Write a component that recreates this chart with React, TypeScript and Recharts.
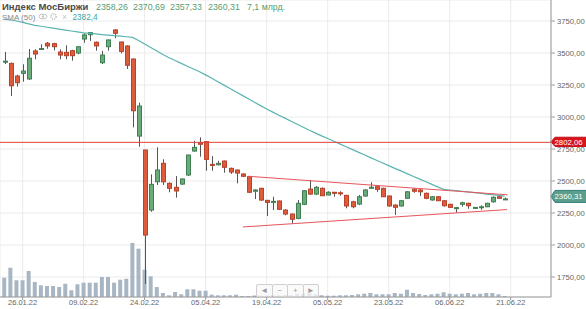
import React from 'react';
import { ComposedChart, Bar, Line, XAxis, YAxis, CartesianGrid, ReferenceLine } from 'recharts';

// trading days, one candle each
const DATES = [
  '21.01.22', '24.01.22', '25.01.22', '26.01.22', '27.01.22', '28.01.22', '31.01.22', '01.02.22', '02.02.22', '03.02.22',
  '04.02.22', '07.02.22', '08.02.22', '09.02.22', '10.02.22', '11.02.22', '14.02.22', '15.02.22', '16.02.22', '17.02.22',
  '18.02.22', '21.02.22', '22.02.22', '24.02.22', '25.02.22', '24.03.22', '25.03.22', '28.03.22', '29.03.22', '30.03.22',
  '31.03.22', '01.04.22', '04.04.22', '05.04.22', '06.04.22', '07.04.22', '08.04.22', '11.04.22', '12.04.22', '13.04.22',
  '14.04.22', '15.04.22', '18.04.22', '19.04.22', '20.04.22', '21.04.22', '22.04.22', '25.04.22', '26.04.22', '27.04.22',
  '28.04.22', '29.04.22', '04.05.22', '05.05.22', '06.05.22', '11.05.22', '12.05.22', '13.05.22', '16.05.22', '17.05.22',
  '18.05.22', '19.05.22', '20.05.22', '23.05.22', '24.05.22', '25.05.22', '26.05.22', '27.05.22', '30.05.22', '31.05.22',
  '01.06.22', '02.06.22', '03.06.22', '06.06.22', '07.06.22', '08.06.22', '09.06.22', '10.06.22', '14.06.22', '15.06.22',
  '16.06.22', '17.06.22', '20.06.22',
];

const OPEN = [
  3430, 3419, 3320, 3341, 3297, 3516, 3531, 3576, 3573, 3508,
  3505, 3518, 3500, 3609, 3643, 3584, 3424, 3549, 3680, 3586,
  3555, 3453, 2851, 2742, 2273, 2494, 2638, 2482, 2451, 2476,
  2547, 2734, 2799, 2807, 2630, 2627, 2656, 2599, 2586, 2555,
  2534, 2420, 2443, 2349, 2336, 2344, 2273, 2242, 2208, 2318,
  2437, 2398, 2443, 2391, 2412, 2408, 2388, 2338, 2320, 2383,
  2448, 2456, 2443, 2383, 2312, 2305, 2365, 2435, 2430, 2404,
  2352, 2377, 2346, 2318, 2288, 2318, 2326, 2291, 2292, 2299,
  2338, 2377, 2358.26,
];

const HIGH = [
  3508, 3425, 3330, 3412, 3531, 3529, 3568, 3586, 3580, 3529,
  3560, 3525, 3552, 3654, 3661, 3590, 3516, 3605, 3687, 3590,
  3560, 3458, 3112, 2745, 2552, 2763, 2670, 2490, 2539, 2520,
  2706, 2815, 2841, 2810, 2695, 2658, 2660, 2605, 2590, 2560,
  2540, 2435, 2447, 2352, 2377, 2348, 2281, 2245, 2352, 2428,
  2508, 2460, 2450, 2420, 2415, 2420, 2392, 2346, 2391, 2436,
  2490, 2460, 2448, 2386, 2318, 2352, 2420, 2444, 2440, 2410,
  2383, 2383, 2350, 2322, 2294, 2338, 2330, 2296, 2310, 2330,
  2380, 2391, 2370.69,
];

const LOW = [
  3414, 3164, 3237, 3276, 3290, 3451, 3528, 3533, 3521, 3451,
  3451, 3440, 3490, 3580, 3594, 3518, 3414, 3518, 3615, 3497,
  3375, 2919, 2768, 1695, 2260, 2469, 2469, 2412, 2370, 2470,
  2539, 2729, 2690, 2580, 2580, 2622, 2565, 2555, 2482, 2530,
  2410, 2359, 2346, 2226, 2273, 2273, 2232, 2169, 2201, 2312,
  2391, 2391, 2383, 2388, 2377, 2385, 2287, 2287, 2312, 2377,
  2443, 2416, 2375, 2300, 2234, 2300, 2360, 2408, 2383, 2358,
  2346, 2343, 2300, 2290, 2252, 2300, 2283, 2288, 2275, 2296,
  2330, 2365, 2357.33,
];

const CLOSE = [
  3436, 3244, 3268, 3359, 3459, 3492, 3535, 3555, 3549, 3484,
  3479, 3479, 3549, 3641, 3659, 3555, 3484, 3602, 3654, 3513,
  3404, 3049, 3086, 2078, 2474, 2586, 2494, 2443, 2422, 2516,
  2703, 2763, 2787, 2669, 2623, 2638, 2607, 2570, 2562, 2537,
  2412, 2430, 2351, 2333, 2341, 2279, 2242, 2201, 2326, 2424,
  2398, 2451, 2385, 2412, 2404, 2402, 2305, 2299, 2377, 2430,
  2451, 2435, 2377, 2305, 2295, 2346, 2416, 2420, 2416, 2365,
  2377, 2346, 2307, 2294, 2292, 2330, 2307, 2294, 2299, 2326,
  2373, 2365, 2360.31,
];

// turnover, bln RUB
const VOLUME = [
  135, 205, 117, 117, 182, 105, 82, 77, 77, 70,
  93, 47, 89, 100, 100, 100, 140, 140, 100, 121,
  128, 378, 338, 191, 145, 70, 28, 12, 35, 19,
  54, 54, 44, 44, 16, 12, 12, 12, 16, 7,
  7, 10, 10, 10, 12, 12, 14, 12, 23, 23,
  28, 19, 12, 9, 9, 12, 12, 14, 19, 23,
  28, 19, 19, 19, 28, 23, 51, 28, 21, 14,
  19, 23, 33, 23, 19, 23, 28, 19, 23, 28,
  28, 19, 7,
];

const SMA50 = [
  3765, 3758, 3750, 3739, 3727, 3716, 3709, 3701, 3694, 3686,
  3679, 3672, 3665, 3657, 3654, 3649, 3644, 3640, 3635, 3632,
  3627, 3622, 3598, 3570, 3543, 3516, 3489, 3463, 3441, 3419,
  3397, 3375, 3354, 3329, 3303, 3276, 3249, 3223, 3196, 3169,
  3142, 3115, 3089, 3062, 3038, 3014, 2991, 2967, 2943, 2920,
  2896, 2874, 2853, 2832, 2811, 2790, 2768, 2747, 2726, 2705,
  2683, 2662, 2641, 2620, 2599, 2579, 2558, 2537, 2517, 2496,
  2476, 2454, 2435, 2430, 2425, 2420, 2415, 2410, 2405, 2398,
  2393, 2388, 2382.4,
];

const X_TICKS = [3, 13, 23, 33, 43, 53, 63, 73, 83];
const X_TICK_LABELS = ['26.01.22', '09.02.22', '24.02.22', '05.04.22', '19.04.22', '05.05.22', '23.05.22', '06.06.22', '21.06.22'];
const Y_TICKS = [1750, 2000, 2250, 2500, 2750, 3000, 3250, 3500, 3750];

const LEVEL = 2802.06;
const LAST_PRICE = 2360.31;
const TREND_UPPER = [{ x: 40, y: 2537 }, { x: 82.5, y: 2392 }];
const TREND_LOWER = [{ x: 39.1, y: 2141 }, { x: 82.4, y: 2277 }];

const FONT = '"Liberation Sans", Arial, sans-serif';
const UP = '#6aab7b';
const UP_EDGE = '#3f7f52';
const DOWN = '#de5b3b';
const DOWN_EDGE = '#b9432a';

const data = DATES.map((d, i) => ({
  i,
  date: d,
  open: OPEN[i],
  high: HIGH[i],
  low: LOW[i],
  close: CLOSE[i],
  range: [LOW[i], HIGH[i]],
  vol: VOLUME[i],
  sma: SMA50[i],
}));

const fmt = (v: number) => v.toFixed(2).replace('.', ',');

function Candle(props: any) {
  const { x, y, width, height, payload } = props;
  if (x == null || y == null) return null;
  const top = Math.min(y, y + height);
  const h = Math.abs(height);
  const { open, close, high, low } = payload;
  const span = high - low || 1;
  const py = (v: number) => top + ((high - v) / span) * h;
  const r = Math.round(x + width / 2);
  const up = close >= open;
  const bTop = py(Math.max(open, close));
  const bBot = py(Math.min(open, close));
  return (
    <g>
      <line x1={r + 0.5} x2={r + 0.5} y1={top} y2={top + h} stroke="#555" strokeWidth={1} />
      <rect
        x={r - 1.5}
        y={bTop}
        width={4}
        height={Math.max(bBot - bTop, 1)}
        fill={up ? UP : DOWN}
        stroke={up ? UP_EDGE : DOWN_EDGE}
        strokeWidth={1}
      />
    </g>
  );
}

function PriceTag(props: any) {
  const { viewBox, text, color, edge, shift = 0, hh = 5 } = props;
  if (!viewBox) return null;
  const x = viewBox.x + viewBox.width;
  const y = viewBox.y + shift;
  return (
    <g>
      <path
        d={`M${x},${y} L${x + 4},${y - hh} L${x + 36},${y - hh} L${x + 36},${y + hh} L${x + 4},${y + hh} Z`}
        fill={color}
        stroke={edge}
        strokeWidth={1}
      />
      <text x={x + 3.5} y={y + 2.8} fill="#fff" fontSize={7.8} fontFamily={FONT}>
        {text}
      </text>
    </g>
  );
}

function Header() {
  const vals = ['2358,26', '2370,69', '2357,33', '2360,31', '7,1 млрд.'];
  const xs = [96, 133, 170, 208, 247];
  return (
    <svg width={586} height={24} style={{ position: 'absolute', left: 0, top: 0, pointerEvents: 'none' }}>
      <text x={2} y={10} fontSize={9.5} fontWeight="bold" fill="#4a4a4a" fontFamily={FONT}>
        Индекс МосБиржи
      </text>
      {vals.map((v, k) => (
        <text key={k} x={xs[k]} y={10} fontSize={8.8} fill="#5a9e6f" fontFamily={FONT}>
          {v}
        </text>
      ))}
      <text x={2} y={19.5} fontSize={8} fill="#888" fontFamily={FONT}>
        SMA (50)
      </text>
      <ellipse cx={43} cy={16.5} rx={4} ry={2.4} fill="none" stroke="#c4c4c4" strokeWidth={1} />
      <circle cx={43} cy={16.5} r={1.2} fill="#c4c4c4" />
      <circle cx={53.5} cy={16.5} r={2.6} fill="none" stroke="#c4c4c4" strokeWidth={1.6} strokeDasharray="1.3 0.9" />
      <text x={62} y={19.5} fontSize={8.5} fill="#c4c4c4" fontFamily={FONT}>
        ×
      </text>
      <text x={72.5} y={19.5} fontSize={8.2} fill="#3aa6a2" fontFamily={FONT}>
        2382,4
      </text>
    </svg>
  );
}

function NavButtons() {
  const labels = ['◄', '−', '+', '►'];
  return (
    <div style={{ position: 'absolute', left: 256, top: 284, display: 'flex', pointerEvents: 'none' }}>
      {labels.map((l, k) => (
        <div
          key={k}
          style={{
            width: 14.5,
            height: 11,
            border: '1px solid #cfcfcf',
            borderRadius: 2,
            marginLeft: k ? -1 : 0,
            background: 'rgba(248,248,248,0.75)',
            color: '#9a9a9a',
            fontSize: 8,
            lineHeight: '11px',
            textAlign: 'center',
            fontFamily: FONT,
          }}
        >
          {l}
        </div>
      ))}
    </div>
  );
}

export default function App() {
  return (
    <div style={{ position: 'absolute', left: 0, top: 0, width: 586, height: 309, background: '#fff', fontFamily: FONT }}>
      <ComposedChart width={586} height={309} data={data} margin={{ top: 0, right: 0, left: 0, bottom: 0 }}>
        <CartesianGrid stroke="#ebebeb" />
        <XAxis
          type="number"
          dataKey="i"
          domain={[-0.705, 89.6]}
          allowDataOverflow
          ticks={X_TICKS}
          interval={0}
          tickFormatter={(v: number) => X_TICK_LABELS[X_TICKS.indexOf(v)] ?? ''}
          height={12}
          tickSize={3}
          tickMargin={0}
          axisLine={{ stroke: '#9a9a9a' }}
          tickLine={{ stroke: '#9a9a9a' }}
          tick={{ fontSize: 7.5, fill: '#666', fontFamily: FONT }}
        />
        <XAxis xAxisId="vx" type="number" dataKey="i" domain={[-0.705, 89.6]} allowDataOverflow hide />
        <YAxis
          orientation="right"
          width={35}
          domain={[1594, 3914]}
          allowDataOverflow
          ticks={Y_TICKS}
          interval={0}
          tickFormatter={fmt}
          tickSize={4}
          tickMargin={2}
          axisLine={{ stroke: '#9a9a9a' }}
          tickLine={{ stroke: '#9a9a9a' }}
          tick={{ fontSize: 7.7, fill: '#666', fontFamily: FONT }}
        />
        <YAxis yAxisId="vy" domain={[0, 2077]} hide />
        <Bar dataKey="vol" xAxisId="vx" yAxisId="vy" fill="#a8b6c4" barSize={4} isAnimationActive={false} />
        <Bar dataKey="range" barSize={5} shape={(p: any) => <Candle {...p} />} isAnimationActive={false} />
        <Line
          dataKey="sma"
          type="linear"
          stroke="#5ab4b0"
          strokeWidth={1.2}
          dot={false}
          activeDot={false}
          isAnimationActive={false}
        />
        <ReferenceLine segment={TREND_UPPER} stroke="#e8545a" strokeWidth={1} />
        <ReferenceLine segment={TREND_LOWER} stroke="#e8545a" strokeWidth={1} />
        <ReferenceLine
          y={LEVEL}
          stroke="#e2403f"
          strokeWidth={1}
          label={<PriceTag text={fmt(LEVEL)} color="#d9141b" edge="#c10f15" shift={-0.5} hh={4.6} />}
        />
        <ReferenceLine
          y={LAST_PRICE}
          stroke="none"
          label={<PriceTag text={fmt(LAST_PRICE)} color="#5b9e8b" edge="#2f7f7a" shift={-2.5} hh={6} />}
        />
      </ComposedChart>
      <Header />
      <NavButtons />
    </div>
  );
}
